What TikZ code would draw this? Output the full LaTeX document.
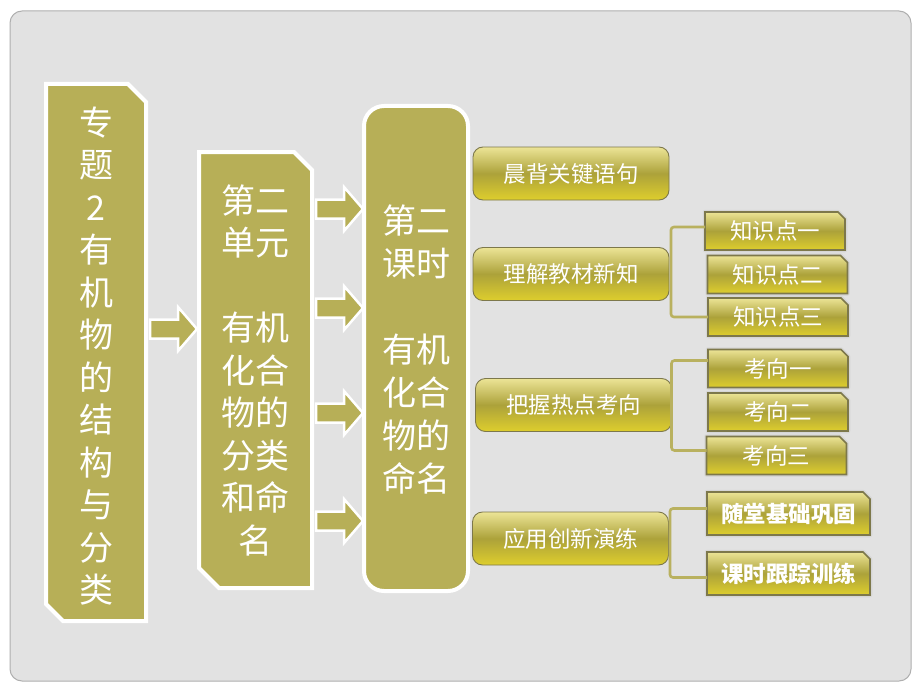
\documentclass[tikz,border=0pt]{standalone}
\usepackage{fontspec}
\newfontfamily\cjk{Noto Sans CJK SC}
\pgfdeclarelayer{back}
\pgfdeclarelayer{bg}
\pgfsetlayers{back,bg,main}
\definecolor{panel}{RGB}{226,226,226}
\definecolor{panelborder}{RGB}{175,175,175}
\definecolor{olivefill}{RGB}{183,175,87}
\definecolor{btnedge}{RGB}{125,120,75}
\definecolor{btntop}{RGB}{236,228,150}
\definecolor{btnmid}{RGB}{172,162,58}
\definecolor{btnbot}{RGB}{222,206,45}
\definecolor{bracecol}{RGB}{185,177,95}
\tikzset{
  bigbox/.style={fill=olivefill, draw=white, line width=4pt, line join=miter},
  bigtext/.style={text=white, align=center, inner sep=0pt},
  barrowstyle/.style={fill=olivefill, draw=white, line width=2.5pt, line join=miter},
  barrow/.pic={\draw[barrowstyle] (0,-9.5) -- (28,-9.5) -- (28,-22) -- (47,0) -- (28,22) -- (28,9.5) -- (0,9.5) -- cycle;},
  btn/.style={draw=btnedge, line width=0.9pt, rounded corners=10pt,
    top color=btntop, bottom color=btnbot, middle color=btnmid,
    text=white, font=\cjk\fontsize{22.5}{26}\selectfont,
    minimum width=196pt, minimum height=53pt, inner sep=0pt},
  subitem/.style={text=white, font=\cjk\fontsize{22.5}{26}\selectfont,
    minimum width=140pt, minimum height=38pt, inner sep=0pt, outer sep=0pt},
  subfill/.style={draw=btnedge, line width=1.6pt, top color=btntop, bottom color=btnbot, middle color=btnmid},
  subglow/.style={draw=black!16, line width=4.5pt, line join=round},
  bracket/.style={draw=bracecol, line width=2.6pt, rounded corners=3pt},
}
\newcommand\subshape[1]{%
  \path[subglow] (#1.south west) -- (#1.north west) -- ([xshift=-7pt]#1.north east) -- ([yshift=-7pt]#1.north east) -- (#1.south east) -- cycle;
  \path[subfill] (#1.south west) -- (#1.north west) -- ([xshift=-7pt]#1.north east) -- ([yshift=-7pt]#1.north east) -- (#1.south east) -- cycle;}
\begin{document}
\begin{tikzpicture}[x=1pt,y=-1pt]
\useasboundingbox (0,0) rectangle (920,690);
\begin{pgfonlayer}{back}
\fill[white] (0,0) rectangle (920,690);
\draw[fill=panel, draw=panelborder, line width=1pt, rounded corners=12pt] (10,11) rectangle (911,681);
\end{pgfonlayer}

% big boxes
\path[bigbox] (46,84) -- (128,84) -- (146,102) -- (146,621) -- (63,621) -- (46,604) -- cycle;
\path[bigbox] (199,152) -- (294,152) -- (312,170) -- (312,588) -- (219,588) -- (199,568) -- cycle;
\path[bigbox, rounded corners=20pt] (364,106) rectangle (468,591);

\node[bigtext, font=\cjk\fontsize{34}{42.5}\selectfont] (b1) at (96,356)
  {专\\题\\2\\有\\机\\物\\的\\结\\构\\与\\分\\类};
\node[bigtext, font=\cjk\fontsize{34}{42.5}\selectfont] (b2) at (255,370)
  {第二\\单元\\~\\有机\\化合\\物的\\分类\\和命\\名};
\node[bigtext, font=\cjk\fontsize{34}{43}\selectfont] (b3) at (416,350)
  {第二\\课时\\~\\有机\\化合\\物的\\命名};

% block arrows
\pic at (150,329) {barrow};
\pic at (316,209) {barrow};
\pic at (316,308) {barrow};
\pic at (316,413) {barrow};
\pic at (316,521) {barrow};

% level-2 buttons
\node[btn] (l1) at (571,173.5) {晨背关键语句};
\node[btn] (l2) at (571,274) {理解教材新知};
\node[btn] (l3) at (573.5,405) {把握热点考向};
\node[btn] (l4) at (570.5,538.5) {应用创新演练};

% level-3 items
\node[subitem] (k1) at (775,231) {知识点一};
\node[subitem] (k2) at (777.5,274.5) {知识点二};
\node[subitem] (k3) at (778,317) {知识点三};
\node[subitem] (q1) at (778,368.5) {考向一};
\node[subitem] (q2) at (778,412) {考向二};
\node[subitem] (q3) at (776.5,455.5) {考向三};
\node[subitem, minimum width=163pt, minimum height=43pt, font=\cjk\bfseries\fontsize{22.5}{26}\selectfont] (s1) at (788.5,513.5) {随堂基础巩固};
\node[subitem, minimum width=163pt, minimum height=43pt, font=\cjk\bfseries\fontsize{22.5}{26}\selectfont] (s2) at (788.5,573.5) {课时跟踪训练};

\begin{pgfonlayer}{bg}
  \subshape{k1}\subshape{k2}\subshape{k3}
  \subshape{q1}\subshape{q2}\subshape{q3}
  \subshape{s1}\subshape{s2}
\end{pgfonlayer}

% brackets
\draw[bracket] ([yshift=4pt]k1.west) -| ([xshift=1.5pt]l2.east) |- (k3.west);
\draw[bracket] ([yshift=8pt]q1.west) -| ([xshift=-0.5pt]l3.east) |- ([yshift=5pt]q3.west);
\draw[bracket] ([yshift=5pt]s1.west) -| ([xshift=1pt]l4.east) |- ([yshift=-4pt]s2.west);
\end{tikzpicture}
\end{document}
